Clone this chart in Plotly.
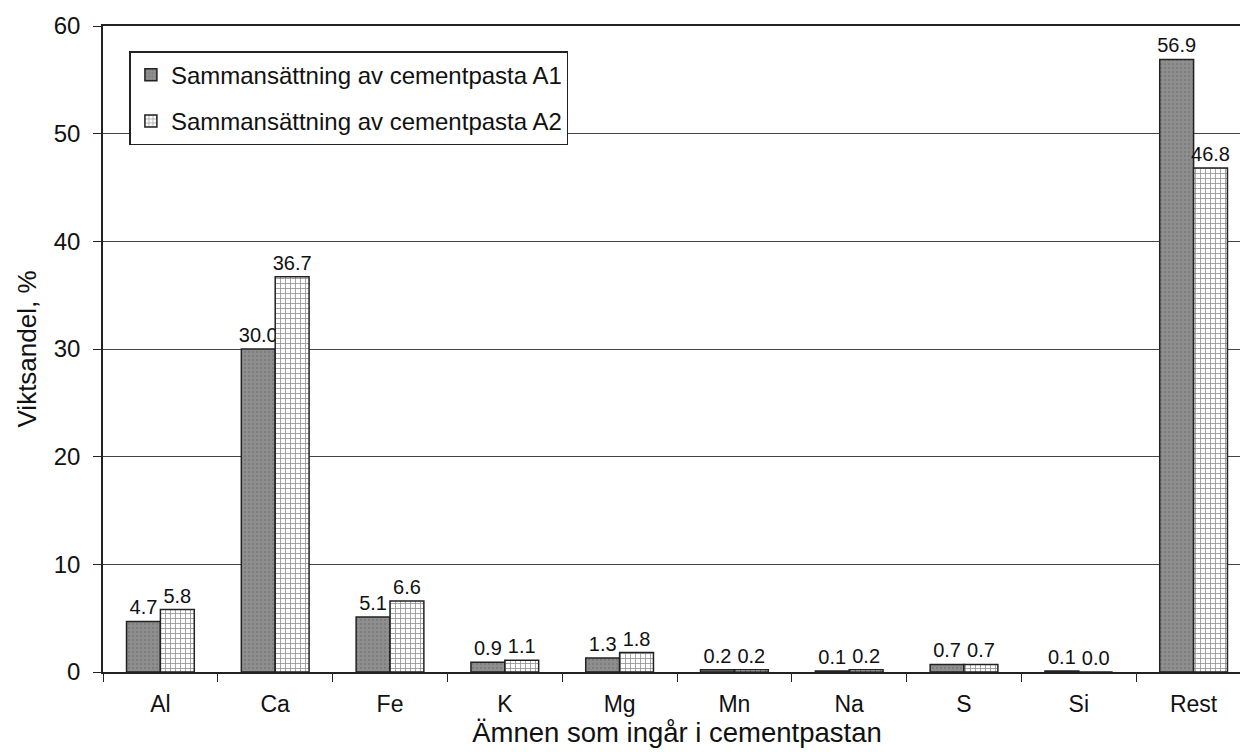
import plotly.graph_objects as go

categories = ["Al", "Ca", "Fe", "K", "Mg", "Mn", "Na", "S", "Si", "Rest"]
a1_values = [4.7, 30.0, 5.1, 0.9, 1.3, 0.2, 0.1, 0.7, 0.1, 56.9]
a2_values = [5.8, 36.7, 6.6, 1.1, 1.8, 0.2, 0.2, 0.7, 0.0, 46.8]
y_ticks = [0, 10, 20, 30, 40, 50, 60]

FONT = "Liberation Sans, Arial, sans-serif"

fig = go.Figure()
fig.add_trace(go.Bar(
    x=categories, y=a1_values, name="Sammansättning av cementpasta A1",
    legendgroup="a1",
    marker=dict(color="#8a8a8a", line=dict(color="#222", width=1.5),
                pattern=dict(shape=".", fgcolor="#6a6a6a", bgcolor="#8f8f8f", size=4, solidity=0.3)),
    text=[f"{v:.1f}" for v in a1_values], textposition="outside", constraintext="none",
    textfont=dict(size=20, color="#111", family=FONT), cliponaxis=False,
))
fig.add_trace(go.Bar(
    x=categories, y=a2_values, name="Sammansättning av cementpasta A2",
    legendgroup="a2",
    marker=dict(color="white", line=dict(color="#222", width=1.5),
                pattern=dict(shape="+", fgcolor="#222", bgcolor="white", size=5, solidity=0.3)),
    text=[f"{v:.1f}" for v in a2_values], textposition="outside", constraintext="none",
    textfont=dict(size=20, color="#111", family=FONT), cliponaxis=False,
))

fig.update_layout(
    width=1248, height=752,
    margin=dict(l=95, r=3, t=18, b=88),
    paper_bgcolor="white", plot_bgcolor="white",
    barmode="group", bargap=0.41, bargroupgap=0.0,
    font=dict(family=FONT, color="#111"),
    legend=dict(x=0.023, y=0.961, xanchor="left", yanchor="top",
                bgcolor="white", bordercolor="#222", borderwidth=1.5,
                font=dict(size=24, family=FONT), tracegroupgap=12,
                itemwidth=30),
    xaxis=dict(
        title=dict(text="Ämnen som ingår i cementpastan", font=dict(size=27.5, family=FONT), standoff=5),
        showline=True, linecolor="#222", linewidth=1.5,
        ticks="outside", tickson="boundaries", ticklen=8, tickcolor="#222",
        ticklabelstandoff=11,
        tickfont=dict(size=23, family=FONT), showgrid=False,
        mirror=True,
    ),
    yaxis=dict(
        title=dict(text="Viktsandel, %", font=dict(size=26, family=FONT), standoff=10),
        range=[0, 60], tickvals=y_ticks,
        showline=True, linecolor="#222", linewidth=1.5, mirror=True,
        ticks="outside", ticklen=8, tickcolor="#222",
        ticklabelstandoff=8,
        tickfont=dict(size=24, family=FONT),
        showgrid=True, gridcolor="#444", gridwidth=1.2, zeroline=False,
    ),
)

fig.write_html("out.html")
